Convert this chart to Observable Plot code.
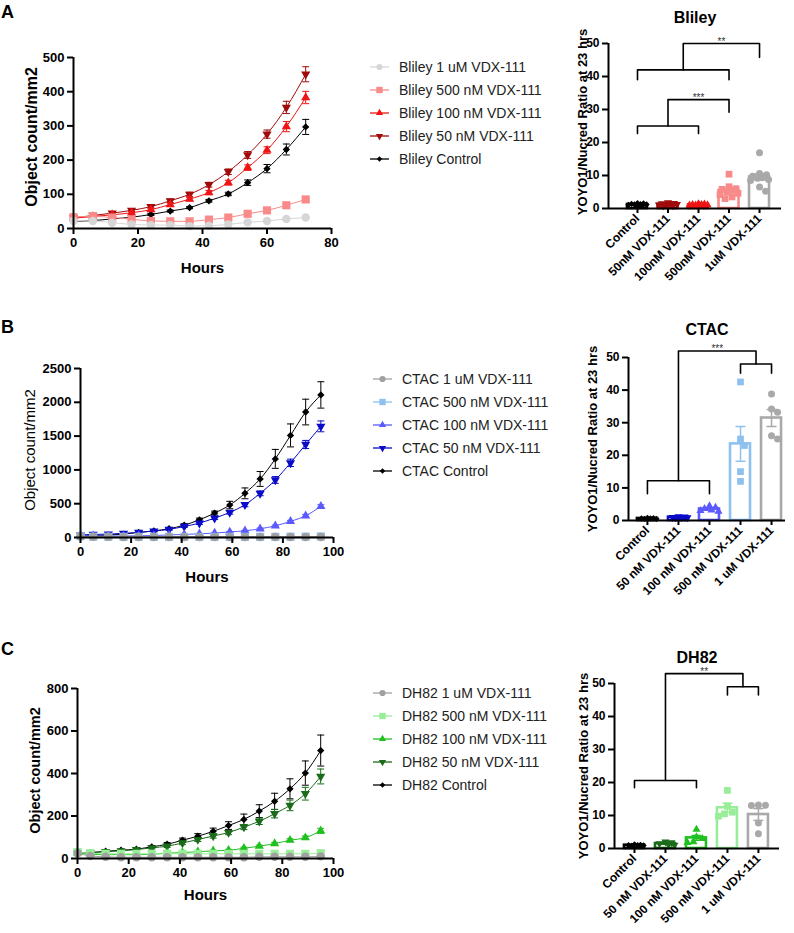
<!DOCTYPE html>
<html><head><meta charset="utf-8">
<script src="https://cdn.jsdelivr.net/npm/d3@7"></script>
<script src="https://cdn.jsdelivr.net/npm/@observablehq/plot@0.6"></script>
<style>
body{margin:0;background:#fff;font-family:"Liberation Sans",Arial,sans-serif;}
#fig{position:relative;width:794px;height:933px;overflow:hidden;background:#fff;}
.letter{position:absolute;font-weight:bold;font-size:18px;line-height:18px;color:#000;}
.legend{position:absolute;font-size:14px;color:#222;}
.legend .row{height:23px;display:flex;align-items:center;white-space:nowrap;}
.legend svg{flex:none;margin-right:0;}
</style></head><body><div id="fig"></div>
<script>
// ---------------- DATA ----------------
const hoursA = [0,6,12,18,24,30,36,42,48,54,60,66,72];
const hoursBC = [0,5,11,17,23,29,35,41,47,53,59,65,71,77,83,89,95];

// Panel A – Bliley growth (object count/mm2)
const blileyNames = ["Bliley 1 uM VDX-111","Bliley 500 nM VDX-111","Bliley 100 nM VDX-111","Bliley 50 nM VDX-111","Bliley Control"];
const blileyLineColors = ["#d6d6d6","#f88a8a","#f01414","#a00a0a","#000000"];
const bliley1uM   = [22,22,17,12,10,10,7,8,12,18,22,28,32];
const bliley500nM = [33,36,32,27,22,21,21,26,32,43,53,68,85];
const bliley100nM = [30,35,40,46,55,70,86,105,134,178,229,298,383];
const bliley50nM  = [31,38,45,53,64,81,100,128,166,215,276,354,451];
const blileyCtrl  = [20,23,28,33,41,51,61,81,101,134,175,231,297];
const bliley1uMErr   = [2,2,2,2,2,2,2,2,2,2,2,3,3];
const bliley500nMErr = [2,2,2,2,2,2,2,2,2,3,3,4,5];
const bliley100nMErr = [2,2,3,3,4,4,5,6,7,8,10,15,18];
const bliley50nMErr  = [2,2,3,3,4,5,6,7,8,10,12,18,22];
const blileyCtrlErr  = [2,2,2,2,3,3,3,4,5,8,12,16,22];

// Panel B – CTAC growth
const ctacNames = ["CTAC 1 uM VDX-111","CTAC 500 nM VDX-111","CTAC 100 nM VDX-111","CTAC 50 nM VDX-111","CTAC Control"];
const ctacLineColors = ["#a0a0a0","#8ec0f0","#5a5aff","#0a0ac8","#000000"];
const ctac1uM   = [18,12,10,8,8,8,8,8,8,8,8,8,8,8,8,8,8];
const ctac500nM = [20,12,10,10,10,10,10,10,10,10,10,10,10,10,12,12,15];
const ctac100nM = [30,25,22,22,25,30,38,45,55,65,82,99,129,173,238,322,460];
const ctac50nM  = [40,45,50,62,75,95,120,163,213,287,371,485,653,851,1104,1376,1644];
const ctacCtrl  = [30,30,35,50,74,99,129,183,262,361,480,653,866,1163,1510,1856,2109];
const ctac1uMErr   = [2,2,2,2,2,2,2,2,2,2,2,2,2,2,2,2,2];
const ctac500nMErr = [2,2,2,2,2,2,2,2,2,2,2,2,2,2,2,2,3];
const ctac100nMErr = [3,3,3,3,3,3,4,4,5,5,6,8,10,12,15,20,25];
const ctac50nMErr  = [5,5,5,6,8,10,12,15,20,20,25,30,35,50,55,60,80];
const ctacCtrlErr  = [5,5,5,8,10,12,15,20,25,30,55,80,110,140,170,190,195];

// Panel C – DH82 growth
const dh82Names = ["DH82 1 uM VDX-111","DH82 500 nM VDX-111","DH82 100 nM VDX-111","DH82 50 nM VDX-111","DH82 Control"];
const dh82LineColors = ["#a0a0a0","#98ee98","#20c020","#1a6b1a","#000000"];
const dh821uM   = [25,12,8,6,6,6,6,6,6,6,6,6,8,8,8,8,10];
const dh82500nM = [30,25,22,22,22,22,22,22,22,22,22,22,22,22,22,22,25];
const dh82100nM = [25,20,18,18,18,20,25,28,32,36,39,48,58,70,86,98,130];
const dh8250nM  = [25,28,32,36,42,50,58,73,89,106,122,148,175,211,250,305,386];
const dh82Ctrl  = [27,28,34,39,44,55,67,86,105,128,155,184,223,269,328,402,508];
const dh821uMErr   = [2,2,2,2,2,2,2,2,2,2,2,2,2,2,2,2,2];
const dh82500nMErr = [3,3,3,3,3,3,3,3,3,3,3,3,3,3,3,3,3];
const dh82100nMErr = [2,2,2,2,2,2,3,3,3,3,4,5,5,6,7,8,12];
const dh8250nMErr  = [3,3,3,4,4,5,6,8,9,10,10,12,15,20,25,30,35];
const dh82CtrlErr  = [3,3,3,4,5,6,8,10,12,15,18,25,30,38,47,57,73];

// Bar charts – YOYO1/Nucred ratio at 23 hrs
const blileyCats = ["Control","50nM VDX-111","100nM VDX-111","500nM VDX-111","1uM VDX-111"];
const blileyBarColors = ["#000000","#a00a0a","#f01414","#f88a8a","#a9a9a9"];
const blileyRatioCtrl = [1.0,1.3,1.5,1.2,0.9,1.4,1.1,1.6,1.2,1.0];
const blileyRatio50   = [1.8,1.5,1.2,0.9,1.0,1.4,1.3,0.8,1.1,1.6];
const blileyRatio100  = [1.4,1.2,0.9,0.8,1.0,1.3,1.1,0.9,1.0,1.2];
const blileyRatio500  = [10.4,6.6,6.0,5.5,5.0,4.6,4.2,3.5,3.0,5.8];
const blileyRatio1uM  = [16.9,10.6,10.2,9.8,9.5,9.2,8.8,8.5,6.5,5.2];
// brackets: [left index, right index, level, left end, right end]
const blileyBrackets = [[0,2,25,22.7,22.7],[1,3,33,25,29.2],[0,3,42,39,39],[1.5,4,50,42,45.8]];
const blileyStars = [{x:2,y:33,s:"***"},{x:2.75,y:50,s:"**"}];

const ctacCats = ["Control","50 nM VDX-111","100 nM VDX-111","500 nM VDX-111","1 uM VDX-111"];
const ctacBarColors = ["#000000","#0a0ac8","#5a5aff","#8ec0f0","#a9a9a9"];
const ctacRatioCtrl = [0.6,0.7,0.5,0.8,0.6,0.5];
const ctacRatio50   = [1.0,1.1,0.9,1.0,1.2,0.9];
const ctacRatio100  = [4.5,4.0,3.6,3.2,3.0,2.8];
const ctacRatio500  = [42.5,25,23,15,12];
const ctacRatio1uM  = [38.8,33.2,34.2,25,26];
const ctacBrackets = [[0,2,12.2,8.2,8.2],[3,4,48,45.2,45.2],[1,3.5,52,12.2,48]];
const ctacStars = [{x:2.25,y:52,s:"***"}];

const dh82Cats = ["Control","50 nM VDX-111","100 nM VDX-111","500 nM VDX-111","1 uM VDX-111"];
const dh82BarColors = ["#000000","#1a6b1a","#20c020","#98ee98","#a9a9a9"];
const dh82RatioCtrl = [1.0,1.1,0.9,1.0,0.8,1.2];
const dh82Ratio50   = [2.0,1.8,1.5,1.2,1.0];
const dh82Ratio100  = [5.8,3.5,3.0,2.0,1.8];
const dh82Ratio500  = [17.6,12.8,11.0,10.5,9.8];
const dh82Ratio1uM  = [13.2,13.0,13.1,7.7,4.5];
const dh82Brackets = [[0,2,20.6,18.4,18.4],[3,4,49,46.5,46.5],[1,3.5,53,20.6,49]];
const dh82Stars = [{x:2.25,y:53,s:"**"}];

// ---------------- SYMBOLS ----------------
const triDown = {draw(ctx, size){const s3=Math.sqrt(3);const y=-Math.sqrt(size/(s3*3));ctx.moveTo(0,-y*2);ctx.lineTo(-s3*y,y);ctx.lineTo(s3*y,y);ctx.closePath();}};
const capSym = {draw(ctx,size){const r=Math.sqrt(size/Math.PI);ctx.moveTo(-r,0);ctx.lineTo(r,0);}};
const symbols = ["circle","square","triangle",triDown,"diamond2"]; // 1uM,500,100,50,control
const d3Symbols = [d3.symbolCircle,d3.symbolSquare,d3.symbolTriangle,triDown,d3.symbolDiamond2];
const lineR = [4.2,4.6,3.4,3.4,3.3];
const legR = [3.1,3.6,2.7,2.7,2.5];
const barSymbols = ["diamond2",triDown,"triangle","square","circle"]; // control..1uM
const barR = [2.9,3.0,3.0,3.8,3.5];

const FONT = "'Liberation Sans', Arial, Helvetica, sans-serif";
const fig = document.getElementById("fig");

function place(node, left, top){node.style.position="absolute";node.style.left=left+"px";node.style.top=top+"px";node.style.background="transparent";node.style.overflow="visible";fig.appendChild(node);}

function lineChart(cfg){
  const marks = [];
  for (const k of [4,3,2,1,0]) {
    const s = cfg.series[k];
    const data = cfg.hours.map((t,i)=>({t, v:s.values[i], e:s.errors[i]}));
    marks.push(Plot.ruleX(data,{x:"t",y1:d=>d.v-d.e,y2:d=>d.v+d.e,stroke:s.color,strokeWidth:1}));
    marks.push(Plot.dot(data,{x:"t",y:d=>d.v+d.e,symbol:capSym,r:3.5,stroke:s.color,fill:"none",strokeWidth:1}));
    marks.push(Plot.dot(data,{x:"t",y:d=>d.v-d.e,symbol:capSym,r:3.5,stroke:s.color,fill:"none",strokeWidth:1}));
    marks.push(Plot.line(data,{x:"t",y:"v",stroke:s.color,strokeWidth:1,curve:"monotone-x"}));
    marks.push(Plot.dot(data,{x:"t",y:"v",symbol:symbols[k],r:lineR[k],fill:s.color,stroke:"none"}));
  }
  marks.push(Plot.ruleY([0],{strokeWidth:2}));
  marks.push(Plot.ruleX([0],{strokeWidth:2}));
  marks.push(Plot.axisY({ticks:d3.range(0,cfg.yMax+1,cfg.yStep),tickFormat:d=>String(d),tickSize:6,tickPadding:3,strokeWidth:2,label:null}));
  marks.push(Plot.axisX({ticks:d3.range(0,cfg.xMax+1,20),tickFormat:d=>String(d),tickSize:6,tickPadding:3,strokeWidth:2,label:null}));
  marks.push(Plot.text(["Object count/mm2"],{frameAnchor:"left",dx:cfg.yLabelDx,dy:cfg.yLabelDy,rotate:-90,text:d=>d,textAnchor:"middle",fontSize:cfg.yLabelSize,fontWeight:cfg.yLabelWeight,lineAnchor:"middle"}));
  marks.push(Plot.text(["Hours"],{frameAnchor:"bottom",dy:cfg.hoursDy,text:d=>d,textAnchor:"middle",fontSize:15,fontWeight:"bold",lineAnchor:"middle"}));
  const svg = Plot.plot({
    width:cfg.width,height:cfg.height,
    marginLeft:cfg.ml,marginRight:cfg.mr,marginTop:cfg.mt,marginBottom:cfg.mb,
    x:{domain:[0,cfg.xMax]},y:{domain:[0,cfg.yMax]},
    style:`font-family:${FONT};font-size:13px;font-weight:bold;color:#000;background:transparent;overflow:visible;`,
    marks
  });
  place(svg,cfg.left,cfg.top);
}

function legend(cfg){
  const div=document.createElement("div");div.className="legend";
  cfg.series.forEach((s,k)=>{
    const row=document.createElement("div");row.className="row";
    const svg=d3.create("svg").attr("width",31).attr("height",14);
    svg.append("line").attr("x1",2).attr("x2",21).attr("y1",7).attr("y2",7).attr("stroke",s.color).attr("stroke-width",1.3);
    svg.append("path").attr("transform","translate(11.5,7)").attr("d",d3.symbol(d3Symbols[k],Math.PI*legR[k]*legR[k])()).attr("fill",s.color);
    row.appendChild(svg.node());row.appendChild(document.createTextNode(s.name));div.appendChild(row);
  });
  div.style.left=cfg.left+"px";div.style.top=cfg.top+"px";fig.appendChild(div);
}

function swarm(vals,pxY,r,maxOff){
  const placed=[],offs=new Array(vals.length);
  const order=d3.range(vals.length).sort((a,b)=>d3.descending(vals[a],vals[b]));
  const cands=[0];for(let k=1;k<=maxOff;k++){cands.push(k,-k);}
  for(const i of order){
    const y=vals[i]*pxY;let best=0,bestO=Infinity;
    for(const c of cands){
      let o=0;for(const p of placed){const d=Math.hypot(c-p[0],y-p[1]);o=Math.max(o,2*r-d);}
      if(o<=0){best=c;bestO=0;break;}
      if(o<bestO){bestO=o;best=c;}
    }
    offs[i]=best;placed.push([best,y]);
  }
  return offs;
}

function barChart(cfg){
  const fw=cfg.width-cfg.ml-cfg.mr, fh=cfg.height-cfg.mt-cfg.mb;
  const pxX=fw/(cfg.xDomain[1]-cfg.xDomain[0]), pxY=fh/50;
  const bw=10/pxX;
  const marks=[];
  cfg.groups.forEach((vals,g)=>{
    const color=cfg.colors[g];
    const b={g,mean:d3.mean(vals),sem:d3.deviation(vals)/Math.sqrt(vals.length)};
    marks.push(Plot.rectY([b],{x1:d=>d.g-bw,x2:d=>d.g+bw,y1:0,y2:"mean",fill:"white",stroke:color,strokeWidth:2.6}));
    marks.push(Plot.ruleX([b],{x:"g",y1:d=>d.mean-d.sem,y2:d=>d.mean+d.sem,stroke:color,strokeWidth:1.5}));
    marks.push(Plot.dot([b],{x:"g",y:d=>d.mean+d.sem,symbol:capSym,r:5,stroke:color,fill:"none",strokeWidth:1.5}));
    marks.push(Plot.dot([b],{x:"g",y:d=>d.mean-d.sem,symbol:capSym,r:5,stroke:color,fill:"none",strokeWidth:1.5}));
    const offs=swarm(vals,pxY,barR[g]*0.95,9);
    const pts=vals.map((v,i)=>({x:g+offs[i]/pxX,v}));
    marks.push(Plot.dot(pts,{x:"x",y:"v",symbol:barSymbols[g],r:barR[g],fill:color,stroke:"none"}));
  });
  const brRows=[];
  cfg.brackets.forEach(([l,r,y,le,re],k)=>{brRows.push({k,x:l,y:le},{k,x:l,y},{k,x:r,y},{k,x:r,y:re});});
  marks.push(Plot.line(brRows,{x:"x",y:"y",z:"k",stroke:"#000",strokeWidth:1.6}));
  marks.push(Plot.text(cfg.stars,{x:"x",y:"y",text:"s",dy:-6,fontSize:10,fontWeight:"normal",fill:"#333",lineAnchor:"top"}));
  marks.push(Plot.ruleY([0],{strokeWidth:2}));
  marks.push(Plot.ruleX([cfg.xDomain[0]],{strokeWidth:2}));
  marks.push(Plot.axisY({ticks:[0,10,20,30,40,50],tickSize:6,tickPadding:3,strokeWidth:2,label:null}));
  marks.push(Plot.axisX({ticks:[0,1,2,3,4],tickFormat:i=>cfg.cats[i],tickRotate:-45,tickSize:5,tickPadding:3,strokeWidth:2,label:null}));
  marks.push(Plot.text([cfg.title],{frameAnchor:"top",dy:cfg.titleDy,text:d=>d,textAnchor:"middle",fontSize:16,fontWeight:"bold",lineAnchor:"middle"}));
  marks.push(Plot.text(["YOYO1/Nucred Ratio at 23 hrs"],{frameAnchor:"left",dx:cfg.labelDx,dy:cfg.labelDy||0,rotate:-90,text:d=>d,textAnchor:"middle",fontSize:13,fontWeight:"bold",lineAnchor:"middle"}));
  const svg=Plot.plot({
    width:cfg.width,height:cfg.height,
    marginLeft:cfg.ml,marginRight:cfg.mr,marginTop:cfg.mt,marginBottom:cfg.mb,
    x:{domain:cfg.xDomain},y:{domain:[0,50]},
    style:`font-family:${FONT};font-size:12px;font-weight:bold;color:#000;background:transparent;`,
    marks
  });
  place(svg,cfg.left,cfg.top);
  if (cfg.clip) svg.style.overflow="hidden";
}

function mk(names,colors,vals,errs){return names.map((n,k)=>({name:n,color:colors[k],values:vals[k],errors:errs[k]}));}

const blileySeries=mk(blileyNames,blileyLineColors,[bliley1uM,bliley500nM,bliley100nM,bliley50nM,blileyCtrl],[bliley1uMErr,bliley500nMErr,bliley100nMErr,bliley50nMErr,blileyCtrlErr]);
const ctacSeries=mk(ctacNames,ctacLineColors,[ctac1uM,ctac500nM,ctac100nM,ctac50nM,ctacCtrl],[ctac1uMErr,ctac500nMErr,ctac100nMErr,ctac50nMErr,ctacCtrlErr]);
const dh82Series=mk(dh82Names,dh82LineColors,[dh821uM,dh82500nM,dh82100nM,dh8250nM,dh82Ctrl],[dh821uMErr,dh82500nMErr,dh82100nMErr,dh8250nMErr,dh82CtrlErr]);

lineChart({series:blileySeries,hours:hoursA,xMax:80,yMax:500,yStep:100,left:0,top:0,width:345,height:285,ml:73,mr:14,mt:57,mb:57,yLabelDx:-42,yLabelDy:-6,yLabelSize:16,yLabelWeight:"bold",hoursDy:40});
lineChart({series:ctacSeries,hours:hoursBC,xMax:100,yMax:2500,yStep:500,left:0,top:300,width:345,height:285,ml:80,mr:12,mt:68,mb:48,yLabelDx:-50,yLabelDy:-3,yLabelSize:15,yLabelWeight:"normal",hoursDy:40});
lineChart({series:dh82Series,hours:hoursBC,xMax:100,yMax:800,yStep:200,left:0,top:620,width:345,height:290,ml:77,mr:12,mt:68,mb:52,yLabelDx:-42,yLabelDy:-3,yLabelSize:14.5,yLabelWeight:"bold",hoursDy:37});

barChart({cats:blileyCats,colors:blileyBarColors,groups:[blileyRatioCtrl,blileyRatio50,blileyRatio100,blileyRatio500,blileyRatio1uM],brackets:blileyBrackets,stars:blileyStars,title:"Bliley",left:540,top:0,width:254,height:300,ml:68,mr:13,mt:43,mb:92,xDomain:[-0.95,4.72],titleDy:-26,labelDx:-26,labelDy:-4});
barChart({cats:ctacCats,colors:ctacBarColors,groups:[ctacRatioCtrl,ctacRatio50,ctacRatio100,ctacRatio500,ctacRatio1uM],brackets:ctacBrackets,stars:ctacStars,title:"CTAC",left:540,top:300,width:254,height:300,ml:88,mr:9,mt:57,mb:80,xDomain:[-0.61,4.45],titleDy:-28,labelDx:-36,clip:true});
barChart({cats:dh82Cats,colors:dh82BarColors,groups:[dh82RatioCtrl,dh82Ratio50,dh82Ratio100,dh82Ratio500,dh82Ratio1uM],brackets:dh82Brackets,stars:dh82Stars,title:"DH82",left:540,top:620,width:254,height:313,ml:74,mr:15,mt:63,mb:85,xDomain:[-0.645,4.68],titleDy:-26,labelDx:-31});

legend({series:blileySeries,left:368,top:55.5});
legend({series:ctacSeries,left:371,top:367.5});
legend({series:dh82Series,left:371,top:681.5});

for (const [t,l,tp] of [["A",1,2.7],["B",1,317.7],["C",1,639.7]]) {
  const d=document.createElement("div");d.className="letter";d.textContent=t;d.style.left=l+"px";d.style.top=tp+"px";fig.appendChild(d);
}
</script></body></html>
